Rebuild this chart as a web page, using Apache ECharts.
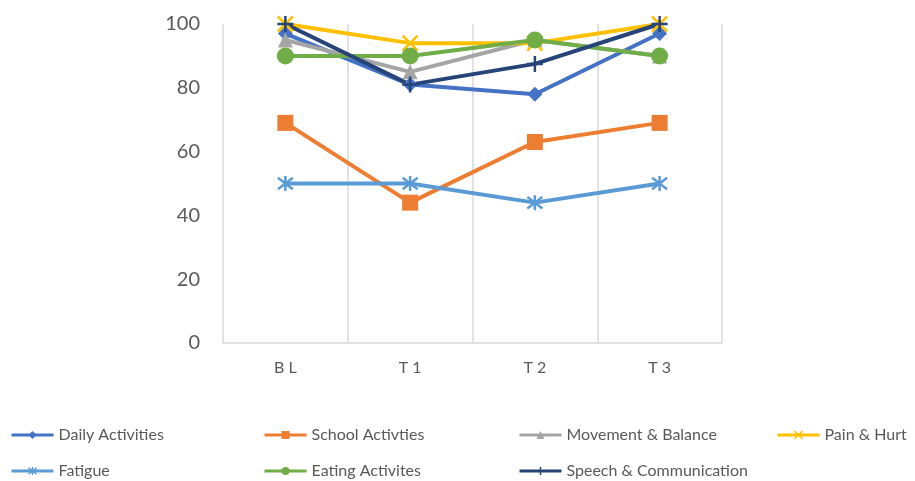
<!DOCTYPE html>
<html>
<head>
<meta charset="utf-8">
<script src="https://cdn.jsdelivr.net/npm/echarts@6/dist/echarts.min.js"></script>
<style>
  html, body { margin: 0; padding: 0; background: #fff; }
  #chart { width: 915px; height: 481px; }
</style>
</head>
<body>
<div id="chart"></div>
<script>
// Time points and scores per domain
const categories = ['B L', 'T 1', 'T 2', 'T 3'];
const dailyActivities = [97, 81, 78, 97];
const schoolActivities = [69, 44, 63, 69];
const movementBalance = [95, 85, 95, 90];
const painHurt = [100, 94, 94, 100];
const fatigue = [50, 50, 44, 50];
const eatingActivities = [90, 90, 95, 90];
const speechCommunication = [100, 81, 87.5, 100];
const yTicks = [0, 20, 40, 60, 80, 100];

// Stroke-only marker shapes
const xMark = 'path://M0,0 L10,10 M10,0 L0,10';
const asterisk = 'path://M0,0 L10,10 M10,0 L0,10 M5,-1.5 L5,11.5';
const plusMark = 'path://M5,0 L5,10 M0.5,5 L9.5,5';

const seriesDefs = [
  { name: 'Daily Activities', data: dailyActivities, color: '#4472C4', symbol: 'diamond', size: 15 },
  { name: 'School Activties', data: schoolActivities, color: '#ED7D31', symbol: 'rect', size: 16 },
  { name: 'Movement & Balance', data: movementBalance, color: '#A5A5A5', symbol: 'triangle', size: 15 },
  { name: 'Pain & Hurt', data: painHurt, color: '#FFC000', symbol: xMark, size: 15, stroke: true },
  { name: 'Fatigue', data: fatigue, color: '#5B9BD5', symbol: asterisk, size: 15, stroke: true },
  { name: 'Eating Activites', data: eatingActivities, color: '#70AD47', symbol: 'circle', size: 17 },
  { name: 'Speech & Communication', data: speechCommunication, color: '#264478', symbol: plusMark, size: 16, stroke: true }
];

const series = seriesDefs.map(d => ({
  name: d.name,
  type: 'line',
  data: d.data,
  symbol: d.symbol,
  symbolSize: d.size,
  showAllSymbol: true,
  lineStyle: { color: d.color, width: 4 },
  itemStyle: d.stroke
    ? { color: 'rgba(0,0,0,0)', borderColor: d.color, borderWidth: 2.5 }
    : { color: d.color, borderWidth: 0 },
  emphasis: { disabled: true },
  animation: false
}));

// Legend laid out as a 4-column grid, one legend block per entry
const legendCols = [10, 263, 518, 776];
const legendRows = [427, 463];
const legends = seriesDefs.map((d, i) => ({
  data: [d.name],
  left: legendCols[i % 4],
  top: legendRows[Math.floor(i / 4)],
  itemWidth: 42,
  itemHeight: 10,
  padding: 0,
  selectedMode: false,
  lineStyle: { width: 3 },
  itemStyle: d.stroke ? { borderWidth: 1.5 } : {},
  textStyle: { fontFamily: 'Lato', fontSize: 16, color: '#595959' }
}));

const chart = echarts.init(document.getElementById('chart'), null, { renderer: 'canvas' });
chart.setOption({
  backgroundColor: '#ffffff',
  animation: false,
  grid: { left: 223, right: 193, top: 24, bottom: 138, containLabel: false },
  legend: legends,
  xAxis: {
    type: 'category',
    data: categories,
    boundaryGap: true,
    axisLine: { show: true, lineStyle: { color: '#d9d9d9', width: 1.5 } },
    axisTick: { show: false },
    splitLine: { show: true, lineStyle: { color: '#d9d9d9', width: 1.5 } },
    axisLabel: { fontFamily: 'Lato', fontSize: 16, color: '#595959', margin: 17 }
  },
  yAxis: {
    type: 'value',
    min: yTicks[0],
    max: yTicks[yTicks.length - 1],
    interval: 20,
    axisLine: { show: false },
    axisTick: { show: false },
    splitLine: { show: false },
    axisLabel: { fontFamily: 'Lato', fontSize: 20, color: '#595959', margin: 23 }
  },
  series: series
});
</script>
</body>
</html>
